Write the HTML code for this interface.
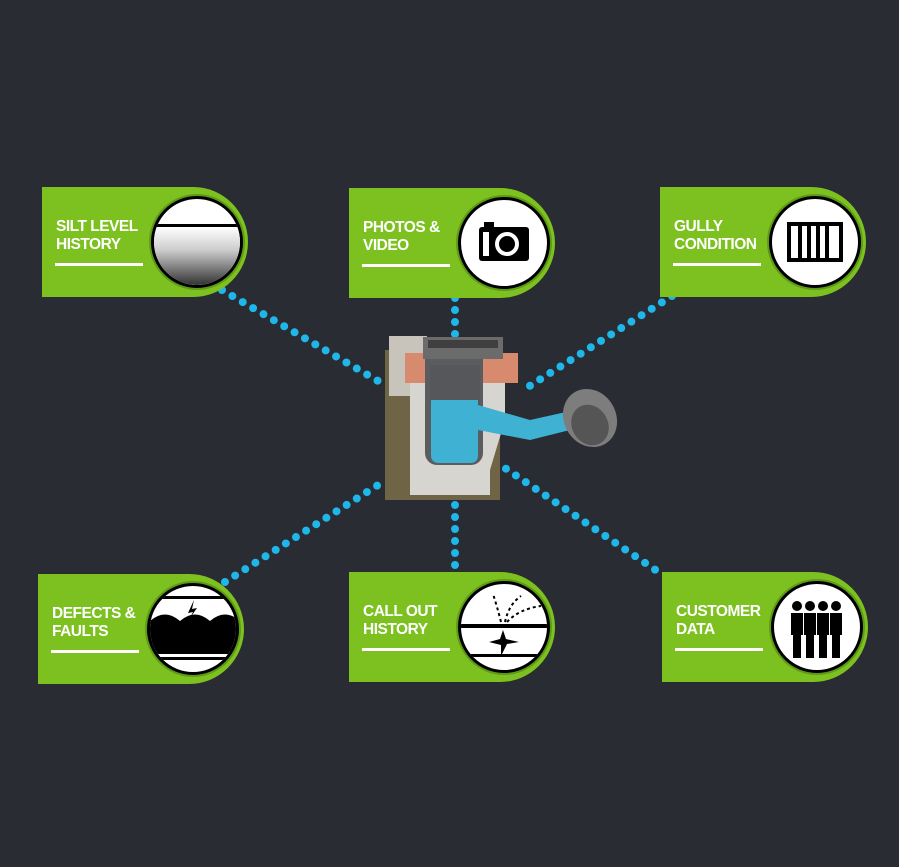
<!DOCTYPE html>
<html><head><style>
body{margin:0;background:#2a2c33;width:899px;height:867px;overflow:hidden;font-family:"Liberation Sans",sans-serif}
.c{position:absolute;width:206px;height:110px;background:#7cc11f;border-radius:0 56px 56px 0}
.t{position:absolute;left:14px;top:31px;color:#fff;font-weight:bold;font-size:15.5px;line-height:18px;letter-spacing:-0.5px}
.u{position:absolute;left:13px;top:76px;width:88px;height:3px;background:#fff}
.i{position:absolute;right:5px;top:9px;width:86px;height:86px;border:3px solid #000;border-radius:50%;background:#fff;overflow:hidden;box-shadow:0 0 0 2px #5e9a17}
</style></head><body>
<svg width="899" height="867" style="position:absolute;left:0;top:0">
<g stroke="#1fb6ea" stroke-width="8" stroke-linecap="round" stroke-dasharray="0 12" fill="none">
<line x1="222" y1="290" x2="385" y2="385"/>
<line x1="455" y1="298" x2="455" y2="336"/>
<line x1="672" y1="296" x2="528" y2="387"/>
<line x1="225" y1="582" x2="386" y2="480"/>
<line x1="455" y1="505" x2="455" y2="566"/>
<line x1="496" y1="462" x2="660" y2="573"/>
</g>
<rect x="385" y="350" width="115" height="150" fill="#6f6445"/>
<rect x="389" y="336" width="38" height="60" fill="#c8c4bc"/>
<path d="M410 380 H505 V420 L490 470 V495 H410 Z" fill="#d7d5d0"/>
<rect x="405" y="353" width="22" height="30" fill="#d88a6e"/>
<rect x="482" y="353" width="36" height="30" fill="#d88a6e"/>
<rect x="425" y="345" width="58" height="120" rx="12" fill="#5a5c60"/>
<rect x="430" y="365" width="50" height="40" fill="#55575b"/>
<path d="M431 400 H478 V455 Q478 463 470 463 H439 Q431 463 431 455 Z" fill="#3fb1d3"/>
<path d="M478 405 L530 420 L575 410 L578 428 L530 440 L478 430 Z" fill="#3fb1d3"/>
<rect x="423" y="337" width="80" height="22" fill="#6b6b6b"/>
<rect x="428" y="340" width="70" height="8" fill="#3f3f40"/>
<ellipse cx="590" cy="418" rx="26" ry="30" fill="#7d7d7d" transform="rotate(-30 590 418)"/>
<ellipse cx="590" cy="425" rx="18" ry="21" fill="#555" transform="rotate(-30 590 425)"/>
</svg>

<div class="c" style="left:42px;top:187px"><div class="t">SILT LEVEL<br>HISTORY</div><div class="u"></div>
<div class="i"><div style="position:absolute;top:25px;left:0;right:0;height:3px;background:#000"></div><div style="position:absolute;top:28px;left:0;right:0;bottom:0;background:linear-gradient(#fff,#ccc 40%,#333)"></div></div></div>

<div class="c" style="left:349px;top:188px"><div class="t">PHOTOS &amp;<br>VIDEO</div><div class="u"></div>
<div class="i"><svg width="86" height="86"><rect x="18" y="27" width="50" height="34" rx="3" fill="#000"/><rect x="23" y="22" width="10" height="6" fill="#000"/><circle cx="46" cy="44" r="12" fill="#fff"/><circle cx="46" cy="44" r="8" fill="#000"/><rect x="22" y="32" width="6" height="24" fill="#fff"/></svg></div></div>

<div class="c" style="left:660px;top:187px"><div class="t">GULLY<br>CONDITION</div><div class="u"></div>
<div class="i"><svg width="86" height="86"><rect x="17" y="25" width="52" height="36" fill="none" stroke="#000" stroke-width="4"/><g stroke="#000" stroke-width="4"><line x1="28" y1="25" x2="28" y2="61"/><line x1="37" y1="25" x2="37" y2="61"/><line x1="46" y1="25" x2="46" y2="61"/><line x1="55" y1="25" x2="55" y2="61"/></g></svg></div></div>

<div class="c" style="left:38px;top:574px"><div class="t">DEFECTS &amp;<br>FAULTS</div><div class="u"></div>
<div class="i"><svg width="86" height="86"><rect x="0" y="10" width="86" height="3" fill="#000"/><path d="M0 35 Q15 22 30 35 Q45 22 60 35 Q75 22 90 35 V68 H0 Z" fill="#000"/><rect x="0" y="71" width="86" height="3" fill="#000"/><path d="M44 14 L38 27 L43 26 L40 32 L47 22 L42 23 Z" fill="#000"/></svg></div></div>

<div class="c" style="left:349px;top:572px"><div class="t">CALL OUT<br>HISTORY</div><div class="u"></div>
<div class="i"><svg width="86" height="86"><rect x="0" y="40" width="86" height="4" fill="#000"/><rect x="0" y="70" width="86" height="3" fill="#000"/><g stroke="#000" stroke-width="2" stroke-dasharray="3 3" fill="none"><path d="M40 38 Q36 22 32 10"/><path d="M44 38 Q48 20 60 12"/><path d="M46 38 Q58 25 80 22"/></g><path d="M42 46 L45 55 L58 58 L46 60 L40 72 L40 61 L28 58 L39 55 Z" fill="#000"/></svg></div></div>

<div class="c" style="left:662px;top:572px"><div class="t">CUSTOMER<br>DATA</div><div class="u"></div>
<div class="i"><svg width="86" height="86"><g fill="#000"><circle cx="23" cy="22" r="5"/><circle cx="36" cy="22" r="5"/><circle cx="49" cy="22" r="5"/><circle cx="62" cy="22" r="5"/><rect x="17" y="29" width="12" height="22"/><rect x="30" y="29" width="12" height="22"/><rect x="43" y="29" width="12" height="22"/><rect x="56" y="29" width="12" height="22"/><rect x="19" y="50" width="8" height="24"/><rect x="32" y="50" width="8" height="24"/><rect x="45" y="50" width="8" height="24"/><rect x="58" y="50" width="8" height="24"/></g></svg></div></div>
</body></html>
